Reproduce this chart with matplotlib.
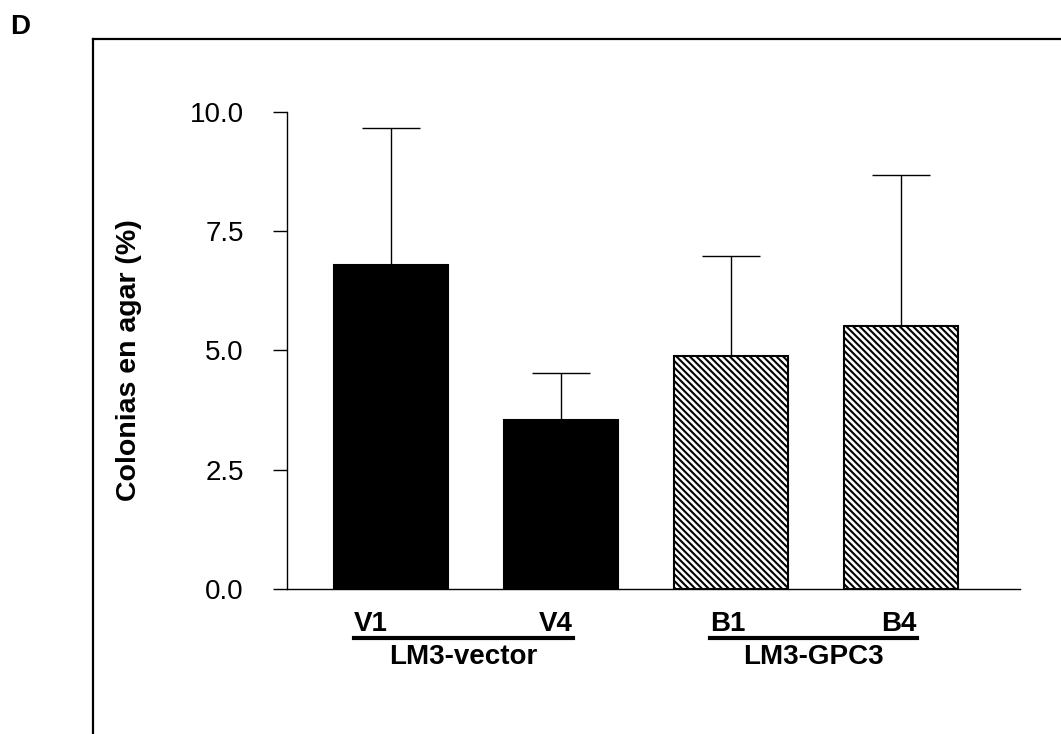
import numpy as np
import matplotlib
matplotlib.use("Agg")
from matplotlib import pyplot as plt
from matplotlib.lines import Line2D

plt.rcParams['font.family'] = ['Liberation Sans', 'DejaVu Sans']
plt.rcParams['hatch.linewidth'] = 1.5

# data
clones = ['V1', 'V4', 'B1', 'B4']
groups = ['LM3-vector', 'LM3-GPC3']
means = [6.8, 3.55, 4.88, 5.52]
errs = [2.87, 0.97, 2.1, 3.16]
yticks = [0.0, 2.5, 5.0, 7.5, 10.0]

fig = plt.figure(figsize=(10.61, 7.34), dpi=100)
ax = fig.add_axes([0.2705, 0.1975, 0.6908, 0.65])

x = np.arange(len(clones))
hatches = ['', '', '\\\\\\\\\\', '\\\\\\\\\\']
colors = ['black', 'black', 'white', 'white']
for i in range(len(clones)):
    ax.bar(x[i], means[i], width=0.67, color=colors[i], edgecolor='black',
           linewidth=1.5, hatch=hatches[i], zorder=2)
ax.errorbar(x, means, yerr=[np.zeros(len(errs)), errs], fmt='none',
            ecolor='black', elinewidth=1.0, capsize=21, capthick=1.0, zorder=1)

ax.set_xlim(-0.61, 3.7)
ax.set_ylim(0, 10)
ax.set_yticks(yticks)
ax.set_yticklabels(['%.1f' % t for t in yticks])
ax.tick_params(axis='y', direction='out', length=10, width=1.0, pad=21, labelsize=20)
ax.set_xticks([])
ax.spines['top'].set_visible(False)
ax.spines['right'].set_visible(False)
ax.spines['left'].set_linewidth(1.0)
ax.spines['bottom'].set_linewidth(1.0)

# clone labels with group underline
spans = [(-0.218, 1.07), (1.88, 3.094)]
for g, (x0, x1) in enumerate(spans):
    ax.text(x0, -0.87, clones[2 * g], ha='left', va='baseline',
            fontsize=20, fontweight='bold', clip_on=False)
    ax.text(x1, -0.87, clones[2 * g + 1], ha='right', va='baseline',
            fontsize=20, fontweight='bold', clip_on=False)
    ax.add_line(Line2D([x0, x1], [-1.02, -1.02], color='black', linewidth=3,
                       clip_on=False))
    ax.text((x0 + x1) / 2, -1.57, groups[g], ha='center', va='baseline',
            fontsize=20, fontweight='bold', clip_on=False)

fig.text(129 / 1061, 1 - 360 / 734, 'Colonias en agar (%)', rotation=90,
         ha='center', va='center', fontsize=20.5, fontweight='bold')
fig.text(10 / 1061, 1 - 27 / 734, 'D', ha='left', va='center',
         fontsize=20, fontweight='bold')

# outer panel frame (runs off the page right and bottom)
fig.add_artist(Line2D([93 / 1061, 1.0], [1 - 39 / 734, 1 - 39 / 734],
                      color='black', linewidth=1.6))
fig.add_artist(Line2D([93 / 1061, 93 / 1061], [1 - 39 / 734, 0.0],
                      color='black', linewidth=1.6))

fig.savefig("out.png", dpi=100)
